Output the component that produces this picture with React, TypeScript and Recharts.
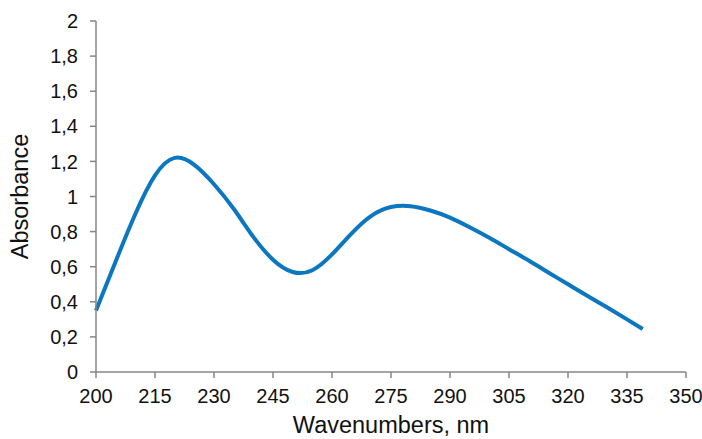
import { LineChart, Line, XAxis, YAxis, Label } from 'recharts'

const wavelengths = [200, 205, 210, 215, 220, 225, 230, 235, 240, 245, 250, 255, 260, 265, 270, 275, 280, 285, 290, 295, 300, 305, 310, 315, 320, 325, 330, 335, 339]
const absorbance = [0.35, 0.63, 0.9, 1.12, 1.22, 1.18, 1.07, 0.93, 0.77, 0.64, 0.57, 0.58, 0.67, 0.79, 0.89, 0.94, 0.945, 0.92, 0.88, 0.825, 0.765, 0.7, 0.635, 0.567, 0.5, 0.433, 0.367, 0.3, 0.245]

const xTicks = [200, 215, 230, 245, 260, 275, 290, 305, 320, 335, 350]
const yTicks = [0, 0.2, 0.4, 0.6, 0.8, 1, 1.2, 1.4, 1.6, 1.8, 2]

const data = wavelengths.map((w, i) => ({ w, a: absorbance[i] }))

const axisColor = '#868686'
const font = 'Arial, "Liberation Sans", sans-serif'

export default function App() {
  return (
    <div style={{ position: 'absolute', left: 0, top: 0, background: '#fff' }}>
      <LineChart width={702} height={439} data={data} margin={{ top: 21, right: 16, left: 0, bottom: 0 }}>
        <XAxis
          dataKey="w"
          type="number"
          domain={[200, 350]}
          ticks={xTicks}
          height={67}
          stroke={axisColor}
          strokeWidth={1.5}
          tickSize={6}
          tickMargin={11}
          tick={{ fill: '#111', fontSize: 20, fontFamily: font }}
        >
          <Label value="Wavenumbers, nm" position="insideBottom" offset={6} style={{ fill: '#111', fontSize: 23.5, fontFamily: font }} />
        </XAxis>
        <YAxis
          type="number"
          domain={[0, 2]}
          ticks={yTicks}
          width={96}
          stroke={axisColor}
          strokeWidth={1.5}
          tickSize={6}
          tickMargin={12}
          tickFormatter={(v) => String(v).replace('.', ',')}
          tick={{ fill: '#111', fontSize: 20, fontFamily: font }}
        >
          <Label value="Absorbance" angle={-90} position="insideLeft" offset={20} style={{ textAnchor: 'middle', fill: '#111', fontSize: 23.5, fontFamily: font }} />
        </YAxis>
        <Line type="natural" dataKey="a" stroke="#0B77C0" strokeWidth={4} dot={false} isAnimationActive={false} />
      </LineChart>
    </div>
  )
}
